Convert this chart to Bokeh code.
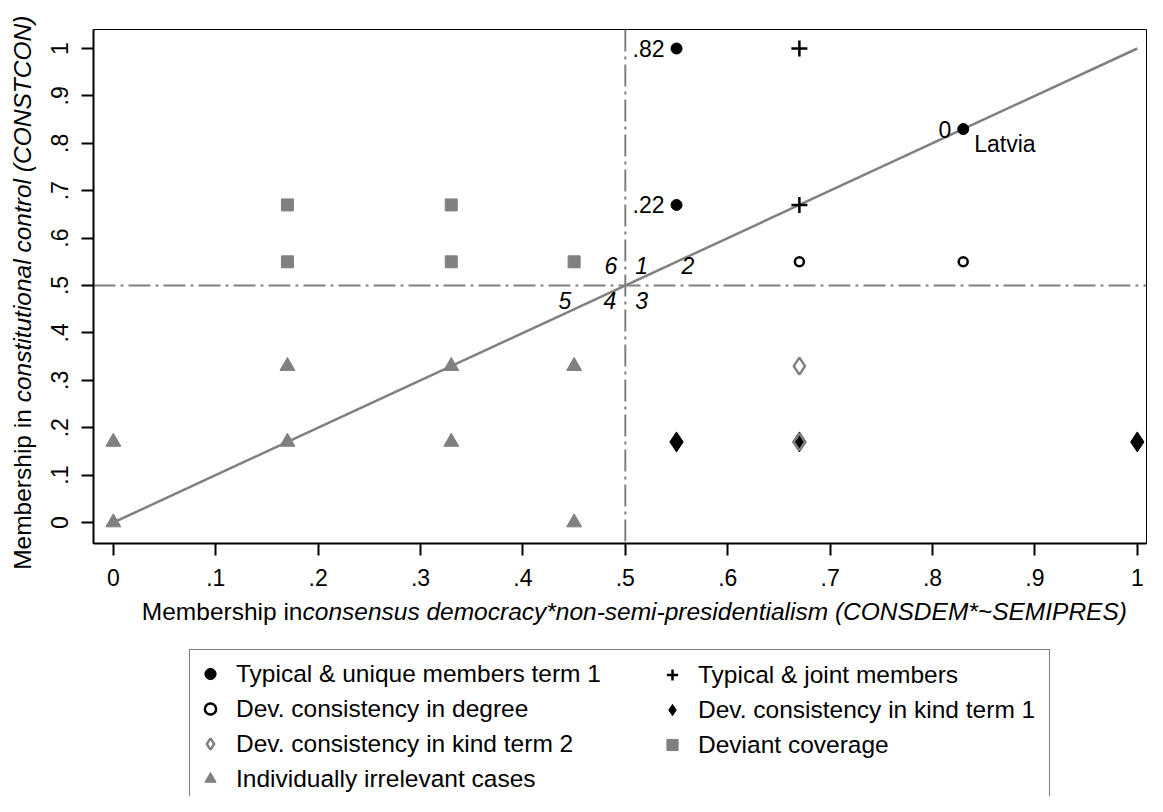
import math
from bokeh.plotting import figure
from bokeh.layouts import row, column
from bokeh.models import Range1d, FixedTicker, Span, Label, Legend, LegendItem
from bokeh.core.properties import value
from bokeh.embed import file_html
from bokeh.resources import INLINE

# ---------------- data ----------------
unique_x = [0.55, 0.55, 0.83]
unique_y = [1.00, 0.67, 0.83]
unique_lab = [".82", ".22", "0"]

joint_x = [0.67, 0.67]
joint_y = [1.00, 0.67]

degree_x = [0.67, 0.83]
degree_y = [0.55, 0.55]

kind1_x = [0.55, 0.67, 1.00]
kind1_y = [0.17, 0.17, 0.17]

kind2_x = [0.67, 0.67]
kind2_y = [0.33, 0.17]

coverage_x = [0.17, 0.33, 0.17, 0.33, 0.45]
coverage_y = [0.67, 0.67, 0.55, 0.55, 0.55]

irrelevant_x = [0.00, 0.00, 0.17, 0.17, 0.33, 0.33, 0.45, 0.45]
irrelevant_y = [0.17, 0.00, 0.33, 0.17, 0.33, 0.17, 0.33, 0.00]

case_name = ["Latvia"]
case_x = [0.83]
case_y = [0.83]

zone_labels = ["1", "2", "3", "4", "5", "6"]
zone_x = [0.516, 0.561, 0.516, 0.485, 0.441, 0.486]
zone_y = [0.542, 0.542, 0.468, 0.468, 0.468, 0.542]

diag_x = [0.0, 1.0]
diag_y = [0.0, 1.0]
threshold = 0.5

tick_values = [0.0, 0.1, 0.2, 0.3, 0.4, 0.5, 0.6, 0.7, 0.8, 0.9, 1.0]
tick_labels = ["0", ".1", ".2", ".3", ".4", ".5", ".6", ".7", ".8", ".9", "1"]

legend_left = ["Typical & unique members term 1", "Dev. consistency in degree",
               "Dev. consistency in kind term 2", "Individually irrelevant cases"]
legend_right = ["Typical & joint members", "Dev. consistency in kind term 1",
                "Deviant coverage"]

x_title_plain = "Membership in"
x_title_italic = "consensus democracy*non-semi-presidentialism (CONSDEM*~SEMIPRES)"
y_title_plain = "Membership in"
y_title_italic = "constitutional control (CONSTCON)"

# ---------------- styling / layout ----------------
FONT = "Liberation Sans"
GREY = "#808080"
TICK_FS = "23px"
TEXT_FS = "24.5px"

TOTAL_W, TOTAL_H = 1147, 796
YT_W = 38                      # strip holding the y-axis title
MAIN_W = TOTAL_W - YT_W
MAIN_H = 593                   # height of the plotting figure
BT_H = TOTAL_H - MAIN_H        # strip with x title and legend
FRAME_L, FRAME_R, FRAME_T, FRAME_B = 93, 1146, 29, 543
BORDER_L = FRAME_L - YT_W
BORDER_R = TOTAL_W - FRAME_R

styles = {
    "unique": dict(marker="circle", size=11, fill_color="black", line_color="black", line_width=1),
    "joint": dict(marker="cross", size=16, line_color="black", line_width=2.5),
    "degree": dict(marker="circle", size=9, fill_color="white", line_color="black", line_width=2.5),
    "kind1": dict(marker="diamond", size=20, fill_color="black", line_color="black", line_width=1),
    "kind2": dict(marker="diamond", size=17, fill_alpha=0, line_color=GREY, line_width=2.5),
    "coverage": dict(marker="square", size=12, fill_color=GREY, line_color=GREY, line_width=1),
    "irrelevant": dict(marker="triangle", size=15, fill_color=GREY, line_color=GREY, line_width=1),
}
series = {
    "unique": (unique_x, unique_y), "joint": (joint_x, joint_y),
    "degree": (degree_x, degree_y), "kind1": (kind1_x, kind1_y),
    "kind2": (kind2_x, kind2_y), "coverage": (coverage_x, coverage_y),
    "irrelevant": (irrelevant_x, irrelevant_y),
}

# ---------------- main plot ----------------
p = figure(width=MAIN_W, height=MAIN_H, output_backend="svg", toolbar_location=None,
           x_range=Range1d(-0.0194, 1.009), y_range=Range1d(-0.0443, 1.0401),
           min_border_left=BORDER_L, min_border_right=BORDER_R, min_border_top=FRAME_T,
           min_border_bottom=MAIN_H - FRAME_B,
           background_fill_color="white", border_fill_color="white")
p.xgrid.visible = False
p.ygrid.visible = False
p.outline_line_color = "black"
p.outline_line_width = 1

overrides = {v: t for v, t in zip(tick_values, tick_labels)}
for ax in (p.xaxis[0], p.yaxis[0]):
    ax.ticker = FixedTicker(ticks=tick_values, minor_ticks=[])
    ax.major_label_overrides = overrides
    ax.axis_line_width = 2
    ax.axis_line_color = "black"
    ax.major_tick_line_width = 2
    ax.major_tick_line_color = "black"
    ax.major_tick_out = 12
    ax.major_tick_in = 0
    ax.minor_tick_out = 0
    ax.minor_tick_in = 0
    ax.major_label_text_font = FONT
    ax.major_label_text_font_size = TICK_FS
    ax.major_label_text_color = "black"
p.xaxis[0].major_label_standoff = 13
p.yaxis[0].major_label_standoff = 13
p.yaxis[0].major_label_orientation = "vertical"

dash = "22 5 3 5"
p.add_layout(Span(location=threshold, dimension="width", line_color=GREY,
                  line_width=2, line_dash=dash, level="underlay"))
p.add_layout(Span(location=threshold, dimension="height", line_color=GREY,
                  line_width=2, line_dash=dash, level="underlay"))

p.line(diag_x, diag_y, line_color=GREY, line_width=2.5)

for key in ["irrelevant", "coverage", "kind1", "kind2", "degree", "joint", "unique"]:
    xs, ys = series[key]
    p.scatter(xs, ys, **styles[key])

p.text(unique_x, unique_y, text=unique_lab, text_align="right", text_baseline="middle",
       x_offset=-12, text_font=value(FONT), text_font_size=TICK_FS, text_color="black")
p.text(case_x, case_y, text=case_name, text_align="left", text_baseline="middle",
       x_offset=11, y_offset=15, text_font=value(FONT), text_font_size=TICK_FS,
       text_color="black")
p.text(zone_x, zone_y, text=zone_labels, text_align="center", text_baseline="middle",
       text_font=value(FONT), text_font_size=TICK_FS, text_font_style="italic",
       text_color="black")


def blank(width, height, xr=(0, 1), left=0, right=0):
    f = figure(width=width, height=height, output_backend="svg", toolbar_location=None,
               x_range=Range1d(*xr), y_range=Range1d(0, 1),
               x_axis_type=None, y_axis_type=None, min_border=0,
               min_border_left=left, min_border_right=right,
               min_border_top=0, min_border_bottom=0,
               background_fill_color="white", border_fill_color="white")
    f.outline_line_color = None
    return f


def title_part(txt, x, y, align, style, angle=0.0):
    return Label(x=x, y=y, x_units="screen", y_units="screen", text=txt,
                 text_align=align, text_baseline="middle", angle=angle,
                 text_font=FONT, text_font_size=TEXT_FS, text_font_style=style,
                 text_color="black")


# ---------------- y-axis title strip (full height; pieces centred, reading upwards) --------
yt = blank(YT_W, TOTAL_H)
yt.add_layout(title_part(y_title_plain, 22, TOTAL_H - 489, "center", "normal", math.pi / 2))
yt.add_layout(title_part(y_title_italic, 22, TOTAL_H - 208.5, "center", "italic", math.pi / 2))

# ---------------- x-axis title + legend strip (frame aligned with the plot frame) ----------
# legend glyphs live here off-view (x range far from the data); only the legend shows them
bt = blank(MAIN_W, BT_H, xr=(10, 11), left=BORDER_L, right=BORDER_R)
bt.add_layout(title_part(x_title_plain, 302 - FRAME_L, TOTAL_H - 611, "right", "normal"))
bt.add_layout(title_part(x_title_italic, 302 - FRAME_L, TOTAL_H - 611, "left", "italic"))

rend = {}
for key in ["unique", "joint", "degree", "kind1", "kind2", "coverage", "irrelevant"]:
    xs, ys = series[key]
    rend[key] = bt.scatter(xs, ys, **styles[key])

left_keys = ["unique", "degree", "kind2", "irrelevant"]
right_keys = ["joint", "kind1", "coverage"]
ROW_H, PAD = 35, 6
common = dict(orientation="vertical", glyph_width=28, glyph_height=ROW_H, label_height=ROW_H,
              label_standoff=12, padding=PAD, spacing=0, margin=0,
              label_text_font=FONT, label_text_font_size=TEXT_FS,
              label_text_color="black")
LEG_TOP = 651
leg1_h = 2 * PAD + ROW_H * 4
leg2_h = 2 * PAD + ROW_H * 3
leg1 = Legend(items=[LegendItem(label=l, renderers=[rend[k]]) for l, k in zip(legend_left, left_keys)],
              location=(189 - FRAME_L, TOTAL_H - LEG_TOP - leg1_h), label_width=807,
              border_line_color="black", border_line_width=1,
              background_fill_color="white", background_fill_alpha=1, **common)
leg2 = Legend(items=[LegendItem(label=l, renderers=[rend[k]]) for l, k in zip(legend_right, right_keys)],
              location=(652 - FRAME_L, TOTAL_H - LEG_TOP - leg2_h), border_line_alpha=0,
              background_fill_alpha=0, **common)
bt.add_layout(leg1)
bt.add_layout(leg2)

layout = row(column(yt), column(p, bt, spacing=0), spacing=0)
open("out.html", "w").write(file_html(layout, INLINE))
